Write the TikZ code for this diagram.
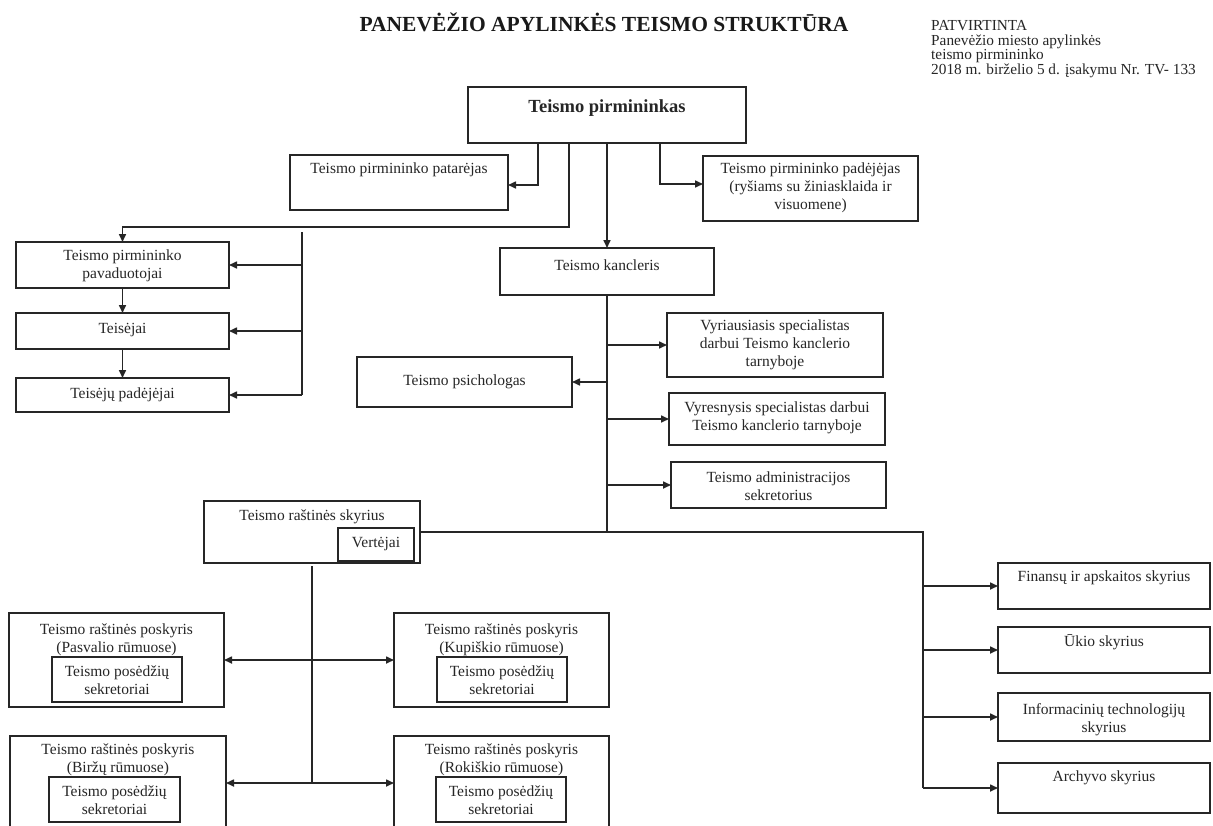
\documentclass[tikz,border=0pt]{standalone}
\usepackage{fontspec}
\setmainfont{Liberation Serif}
\usetikzlibrary{arrows.meta}
\newcommand\bx[5]{\node[box,minimum width={#4-#2},minimum height={#5-#3}] (#1) at ({(#2+#4)/2},{(#3+#5)/2}) {};}
\begin{document}
\begin{tikzpicture}[x=1pt,y=-1pt,
  box/.style={draw=black!85,line width=1.6pt,rectangle,inner sep=0pt,outer sep=0pt},
  txt/.style={inner sep=0pt,align=center,text=black!85,font=\fontsize{15.5}{17.8}\selectfont},
  ln/.style={draw=black!85,line width=1.6pt},
  arr/.style={draw=black!85,line width=1.6pt,-{Triangle[length=8pt,width=7pt]}}]
\path[fill=white,use as bounding box] (0,0) rectangle (1213,825);

% title and approval note
\node[inner sep=0pt,text=black!90,font=\fontsize{21.5}{24}\selectfont\bfseries] (title) at (604,22) {PANEVĖŽIO APYLINKĖS TEISMO STRUKTŪRA};
\node[inner sep=0pt,anchor=north west,align=left,text=black!85,font=\fontsize{15.3}{14.8}\selectfont] (patv) at (931,20)
  {PATVIRTINTA\\Panevėžio miesto apylinkės\\teismo pirmininko\\2018 m. birželio 5 d. įsakymu Nr. TV- 133};

% boxes
\bx{pirm}{468}{87}{746}{143}
\bx{patar}{290}{155}{508}{210}
\bx{padej}{703}{156}{918}{221}
\bx{pavad}{16}{242}{229}{288}
\bx{teis}{16}{313}{229}{349}
\bx{tpad}{16}{378}{229}{412}
\bx{kanc}{500}{248}{714}{295}
\bx{vyr}{667}{313}{883}{377}
\bx{psych}{357}{357}{572}{407}
\bx{vyres}{669}{393}{885}{445}
\bx{admin}{671}{462}{886}{508}
\bx{rast}{204}{501}{420}{563}
\bx{vert}{338}{528}{414}{561}
\bx{fin}{998}{563}{1210}{609}
\bx{uk}{998}{627}{1210}{673}
\bx{info}{998}{693}{1210}{741}
\bx{arch}{998}{763}{1210}{813}
\bx{pasv}{9}{613}{224}{707}
\bx{pasvi}{52}{657}{182}{702}
\bx{kup}{394}{613}{609}{707}
\bx{kupi}{437}{657}{567}{702}
\bx{birz}{10}{736}{226}{830}
\bx{birzi}{49}{777}{180}{822}
\bx{rok}{394}{736}{609}{830}
\bx{roki}{436}{777}{566}{822}

% texts
\node[txt,font=\fontsize{18.5}{20}\selectfont\bfseries] (tpirm) at (607,108) {Teismo pirmininkas};
\node[txt] (tpatar) at (399,170) {Teismo pirmininko patarėjas};
\node[txt] (tpadej) at (810.5,188) {Teismo pirmininko padėjėjas\\(ryšiams su žiniasklaida ir\\visuomene)};
\node[txt] (tpavad) at (122.5,266) {Teismo pirmininko\\pavaduotojai};
\node[txt] (tteis) at (122.5,330) {Teisėjai};
\node[txt] (ttpad) at (122.5,395) {Teisėjų padėjėjai};
\node[txt] (tkanc) at (607,265) {Teismo kancleris};
\node[txt] (tvyr) at (775,345) {Vyriausiasis specialistas\\darbui Teismo kanclerio\\tarnyboje};
\node[txt] (tpsych) at (464.5,382) {Teismo psichologas};
\node[txt] (tvyres) at (777,418) {Vyresnysis specialistas darbui\\Teismo kanclerio tarnyboje};
\node[txt] (tadmin) at (778.5,486) {Teismo administracijos\\sekretorius};
\node[txt] (trast) at (312,517) {Teismo raštinės skyrius};
\node[txt] (tvert) at (376,544) {Vertėjai};
\node[txt] (tfin) at (1104,578) {Finansų ir apskaitos skyrius};
\node[txt] (tuk) at (1104,642) {Ūkio skyrius};
\node[txt] (tinfo) at (1104,720) {Informacinių technologijų\\skyrius};
\node[txt] (tarch) at (1104,778) {Archyvo skyrius};
\node[txt] (tpasv) at (116.5,640) {Teismo raštinės poskyris\\(Pasvalio rūmuose)};
\node[txt] (tpasvi) at (117,680) {Teismo posėdžių\\sekretoriai};
\node[txt] (tkup) at (501.5,640) {Teismo raštinės poskyris\\(Kupiškio rūmuose)};
\node[txt] (tkupi) at (502,680) {Teismo posėdžių\\sekretoriai};
\node[txt] (tbirz) at (118,760) {Teismo raštinės poskyris\\(Biržų rūmuose)};
\node[txt] (tbirzi) at (114.5,800) {Teismo posėdžių\\sekretoriai};
\node[txt] (trok) at (501.5,760) {Teismo raštinės poskyris\\(Rokiškio rūmuose)};
\node[txt] (troki) at (501,800) {Teismo posėdžių\\sekretoriai};

% connectors from the court president
\draw[arr] ([xshift=-69pt]pirm.south) |- ([yshift=-2.5pt]patar.east);
\draw[arr] ([xshift=53pt]pirm.south) |- ([yshift=4.5pt]padej.west);
\draw[arr] ([xshift=-38pt]pirm.south) |- ([yshift=15pt]pavad.north) -- (pavad.north);
\draw[arr] (pirm.south) -- (kanc.north);

% left column
\coordinate (ltop) at (302,232);
\draw[ln] (ltop) -- (ltop |- tpad);
\draw[arr] (ltop |- pavad) -- (pavad.east);
\draw[arr] (ltop |- teis) -- (teis.east);
\draw[arr] (ltop |- tpad) -- (tpad.east);
\draw[arr] (pavad) -- (teis);
\draw[arr] (teis) -- (tpad);

% chancellor branch
\coordinate (kb) at (kanc.south |- rast.east);
\draw[ln] (kanc.south) -- (kb);
\draw[arr] (kanc.south |- vyr) -- (vyr.west);
\draw[arr] (kanc.south |- psych) -- (psych.east);
\draw[arr] (kanc.south |- vyres) -- (vyres.west);
\draw[arr] (kanc.south |- admin) -- (admin.west);

% right departments
\coordinate (rc) at (923,532);
\draw[ln] (rast.east) -- (rc) -- (rc |- arch);
\draw[arr] (rc |- fin) -- (fin.west);
\draw[arr] (rc |- uk) -- (uk.west);
\draw[arr] (rc |- info) -- (info.west);
\draw[arr] (rc |- arch) -- (arch.west);

% registry sub-units
\draw[ln] ([yshift=-3pt]rast.south) -- (rast.south |- birz);
\draw[arr] (rast.south |- pasv) -- (pasv.east);
\draw[arr] (rast.south |- kup) -- (kup.west);
\draw[arr] (rast.south |- birz) -- (birz.east);
\draw[arr] (rast.south |- rok) -- (rok.west);
\end{tikzpicture}
\end{document}
